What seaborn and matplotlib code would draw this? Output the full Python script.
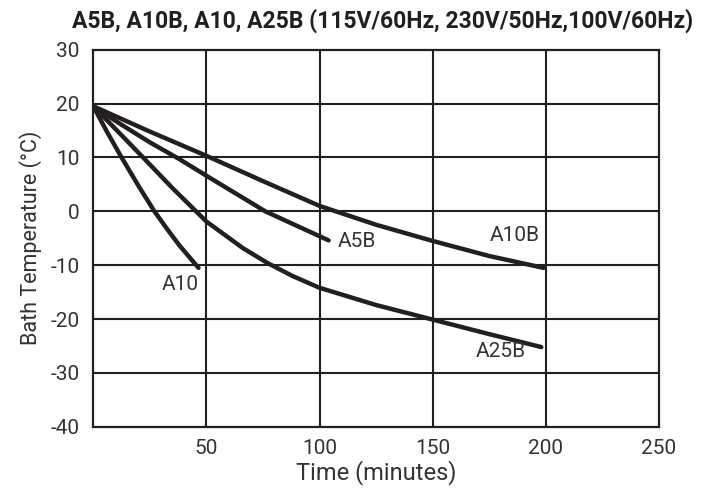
import matplotlib
matplotlib.use('Agg')
import matplotlib.pyplot as plt
import seaborn as sns

# cooling curves (minutes, bath temperature degC)
a10_time = [0, 6, 12.5, 20, 27, 33, 38, 46.5]
a10_temp = [19.5, 14.8, 10.0, 4.7, 0.0, -3.5, -6.3, -10.5]

a5b_time = [0, 12, 25, 38, 50, 63, 76, 90, 104]
a5b_temp = [19.5, 16.2, 12.8, 9.7, 6.6, 3.3, 0.0, -2.7, -5.4]

a10b_time = [0, 25, 50, 75, 100, 125, 150, 175, 199]
a10b_temp = [19.5, 14.8, 10.3, 5.6, 1.0, -2.5, -5.5, -8.3, -10.5]

a25b_time = [0, 10, 22, 35, 50, 66, 77, 88, 100, 125, 150, 175, 198]
a25b_temp = [19.5, 15.2, 10.0, 4.3, -1.9, -6.8, -9.6, -12.0, -14.2, -17.4, -20.1, -22.8, -25.2]

curve_names = ['A10', 'A5B', 'A10B', 'A25B']
label_pos = [(38.2, -13.6), (116.5, -5.6), (186.4, -4.4), (180.2, -26.1)]

x_ticks = [50, 100, 150, 200, 250]
y_ticks = [30, 20, 10, 0, -10, -20, -30, -40]

title = 'A5B, A10B, A10, A25B (115V/60Hz, 230V/50Hz,100V/60Hz)'

sns.set_style('white')
plt.rcParams['font.family'] = ['Roboto', 'DejaVu Sans']
plt.rcParams['axes.unicode_minus'] = False
ink = '#231f20'
txt = '#333333'

fig = plt.figure(figsize=(7.02, 4.95), dpi=100)
ax = fig.add_axes([0.1329, 0.1378, 0.8058, 0.7618])

# grid first so the curves sit on top
for xv in x_ticks[:-1]:
    ax.axvline(xv, color=ink, lw=1.5, zorder=1)
for yv in y_ticks[1:-1]:
    ax.axhline(yv, color=ink, lw=1.5, zorder=1)

series = [(a10_time, a10_temp), (a5b_time, a5b_temp),
          (a10b_time, a10b_temp), (a25b_time, a25b_temp)]
for (t, v) in series:
    sns.lineplot(x=t, y=v, color=ink, lw=3.2, ax=ax, zorder=3)

for name, (lx, ly) in zip(curve_names, label_pos):
    ax.text(lx, ly, name, ha='center', va='center', fontsize=15, color=txt)

ax.set_xlim(0, 250)
ax.set_ylim(-40, 30)
ax.set_xticks(x_ticks)
ax.set_yticks(y_ticks)
ax.tick_params(axis='both', length=0, labelsize=15, labelcolor=txt)
ax.tick_params(axis='x', pad=9)
ax.tick_params(axis='y', pad=10)
for s in ax.spines.values():
    s.set_color(ink)
    s.set_linewidth(1.6)

ax.set_xlabel('Time (minutes)', fontsize=17, color=txt, labelpad=1)
ax.set_ylabel('Bath Temperature (\u00b0C)', fontsize=15.5, color=txt, labelpad=6)

fig.text(0.545, 0.9586, title, ha='center', va='center', fontsize=16.5,
         fontweight='bold', color=ink)

fig.savefig('out.png', dpi=100)
